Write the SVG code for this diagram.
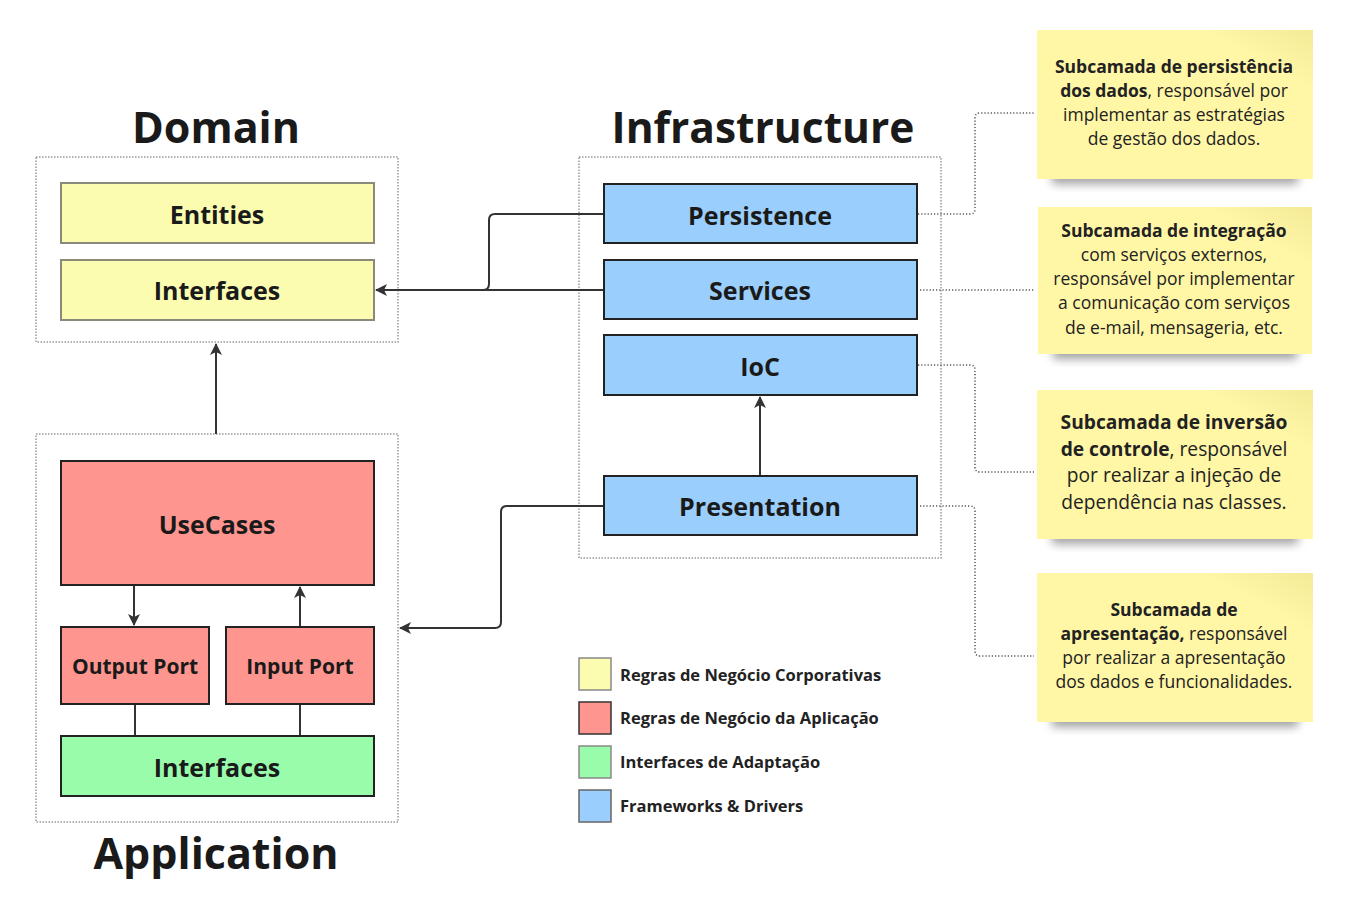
<svg xmlns="http://www.w3.org/2000/svg" width="1353" height="903" viewBox="0 0 1353 903">
<style>
.title{font-family:"Open Sans","Noto Sans",sans-serif;font-weight:700;fill:#1a1a1a;text-anchor:middle}
.lbl{font-family:"Open Sans","Noto Sans",sans-serif;font-weight:700;fill:#1a1a1a;text-anchor:middle;dominant-baseline:central}
.cont{fill:none;stroke:#999;stroke-width:1.5;stroke-dasharray:1.5 1.5}
.yel{fill:#FBFCB0;stroke:#8a8a7a;stroke-width:2}
.red{fill:#FF958F;stroke:#222;stroke-width:2}
.grn{fill:#98FCAB;stroke:#222;stroke-width:2}
.blu{fill:#9ACEFC;stroke:#222;stroke-width:2}
.edge{fill:none;stroke:#333;stroke-width:2}
.dot{fill:none;stroke:#555;stroke-width:1.5;stroke-dasharray:1.2 2}
.note{fill:url(#ng)}
.nt{font-family:"Open Sans","Noto Sans",sans-serif;fill:#222;text-anchor:middle}
.leg{font-family:"Open Sans","Noto Sans",sans-serif;font-weight:700;font-size:16.5px;fill:#222}
</style>
<defs>
<marker id="ah" viewBox="0 0 12 12" refX="11" refY="6" markerWidth="12" markerHeight="12" markerUnits="userSpaceOnUse" orient="auto">
<path d="M0,0 L12,6 L0,12 L3,6 z" fill="#333"/>
</marker>
<linearGradient id="ng" x1="0" y1="1" x2="1" y2="0">
<stop offset="0" stop-color="#FFF7A6"/>
<stop offset="0.8" stop-color="#FFF6A6"/>
<stop offset="1" stop-color="#F4EA98"/>
</linearGradient>
<filter id="sh" x="-20%" y="-50%" width="140%" height="200%">
<feGaussianBlur stdDeviation="5"/>
</filter>
</defs>
<rect width="1353" height="903" fill="#fff"/>

<text class="title" x="216" y="143" font-size="43">Domain</text>
<text class="title" x="763" y="143" font-size="42.5">Infrastructure</text>
<text class="title" x="216" y="869" font-size="43">Application</text>

<rect class="cont" x="36" y="157" width="362" height="185"/>
<rect class="cont" x="36" y="434" width="362" height="388"/>
<rect class="cont" x="579" y="157" width="362" height="401"/>

<g id="connectors">
<path class="edge" d="M604,214 H495 Q489,214 489,220 V284 Q489,290 483,290" />
<path class="edge" d="M604,290 H376" marker-end="url(#ah)"/>
<path class="edge" d="M604,506 H507 Q501,506 501,512 V622 Q501,628 495,628 H400" marker-end="url(#ah)"/>
<path class="edge" d="M760,476 V397" marker-end="url(#ah)"/>
<path class="edge" d="M216,434 V344" marker-end="url(#ah)"/>
<path class="edge" d="M134,585 V625" marker-end="url(#ah)"/>
<path class="edge" d="M300,627 V587" marker-end="url(#ah)"/>
<path class="edge" d="M135,704 V736"/>
<path class="edge" d="M300,704 V736"/>
<path class="dot" d="M918,214 H970 Q975,214 975,209 V118 Q975,113 980,113 H1034"/>
<path class="dot" d="M920,290 H1034"/>
<path class="dot" d="M918,365 H970 Q975,365 975,370 V467 Q975,472 980,472 H1034"/>
<path class="dot" d="M920,506 H970 Q975,506 975,511 V651 Q975,656 980,656 H1034"/>
</g>

<g id="entities"><rect class="yel" x="61" y="183" width="313" height="60"/><text class="lbl" x="217" y="213.5" font-size="25">Entities</text></g>
<g id="domain-interfaces"><rect class="yel" x="61" y="260" width="313" height="60"/><text class="lbl" x="217" y="289.5" font-size="25">Interfaces</text></g>

<g id="usecases"><rect class="red" x="61" y="461" width="313" height="124"/><text class="lbl" x="217" y="523.5" font-size="25">UseCases</text></g>
<g id="output-port"><rect class="red" x="61" y="627" width="148" height="77"/><text class="lbl" x="135" y="666" font-size="21">Output Port</text></g>
<g id="input-port"><rect class="red" x="226" y="627" width="148" height="77"/><text class="lbl" x="300" y="666" font-size="21">Input Port</text></g>
<g id="app-interfaces"><rect class="grn" x="61" y="736" width="313" height="60"/><text class="lbl" x="217" y="766.5" font-size="25">Interfaces</text></g>

<g id="persistence"><rect class="blu" x="604" y="184" width="313" height="59"/><text class="lbl" x="760" y="214.5" font-size="25">Persistence</text></g>
<g id="services"><rect class="blu" x="604" y="260" width="313" height="59"/><text class="lbl" x="760" y="289.5" font-size="25">Services</text></g>
<g id="ioc"><rect class="blu" x="604" y="335" width="313" height="60"/><text class="lbl" x="760" y="365.5" font-size="25">IoC</text></g>
<g id="presentation"><rect class="blu" x="604" y="476" width="313" height="59"/><text class="lbl" x="760" y="505.5" font-size="25">Presentation</text></g>

<g id="note-persistence">
<rect x="1052" y="168" width="246" height="16" fill="#555" opacity="0.55" filter="url(#sh)"/>
<rect class="note" x="1037" y="30" width="276" height="149"/>
<text class="nt" font-size="17.5"><tspan x="1174" y="73" font-weight="700">Subcamada de persistência</tspan><tspan x="1174" y="97"><tspan font-weight="700">dos dados</tspan>, responsável por</tspan><tspan x="1174" y="121">implementar as estratégias</tspan><tspan x="1174" y="145">de gestão dos dados.</tspan></text>
</g>
<g id="note-services">
<rect x="1053" y="343" width="244" height="16" fill="#555" opacity="0.55" filter="url(#sh)"/>
<rect class="note" x="1038" y="207" width="274" height="147"/>
<text class="nt" font-size="17.5"><tspan x="1174" y="237" font-weight="700">Subcamada de integração</tspan><tspan x="1174" y="261">com serviços externos,</tspan><tspan x="1174" y="285">responsável por implementar</tspan><tspan x="1174" y="309">a comunicação com serviços</tspan><tspan x="1174" y="334">de e-mail, mensageria, etc.</tspan></text>
</g>
<g id="note-ioc">
<rect x="1052" y="528" width="246" height="16" fill="#555" opacity="0.55" filter="url(#sh)"/>
<rect class="note" x="1037" y="390" width="276" height="149"/>
<text class="nt" font-size="19.2"><tspan x="1174" y="429" font-weight="700">Subcamada de inversão</tspan><tspan x="1174" y="456"><tspan font-weight="700">de controle</tspan>, responsável</tspan><tspan x="1174" y="482">por realizar a injeção de</tspan><tspan x="1174" y="509">dependência nas classes.</tspan></text>
</g>
<g id="note-presentation">
<rect x="1052" y="711" width="246" height="16" fill="#555" opacity="0.55" filter="url(#sh)"/>
<rect class="note" x="1037" y="573" width="276" height="149"/>
<text class="nt" font-size="17.5"><tspan x="1174" y="616" font-weight="700">Subcamada de</tspan><tspan x="1174" y="640"><tspan font-weight="700">apresentação,</tspan> responsável</tspan><tspan x="1174" y="664">por realizar a apresentação</tspan><tspan x="1174" y="688">dos dados e funcionalidades.</tspan></text>
</g>

<g id="legend">
<rect x="579" y="658" width="32" height="32" fill="#FBFCB0" stroke="#888" stroke-width="1.5"/>
<text class="leg" x="620" y="681">Regras de Negócio Corporativas</text>
<rect x="579" y="702" width="32" height="32" fill="#FF958F" stroke="#333" stroke-width="1.5"/>
<text class="leg" x="620" y="724">Regras de Negócio da Aplicação</text>
<rect x="579" y="746" width="32" height="32" fill="#98FCAB" stroke="#888" stroke-width="1.5"/>
<text class="leg" x="620" y="768">Interfaces de Adaptação</text>
<rect x="579" y="790" width="32" height="32" fill="#9ACEFC" stroke="#666" stroke-width="1.5"/>
<text class="leg" x="620" y="812">Frameworks &amp; Drivers</text>
</g>
</svg>
